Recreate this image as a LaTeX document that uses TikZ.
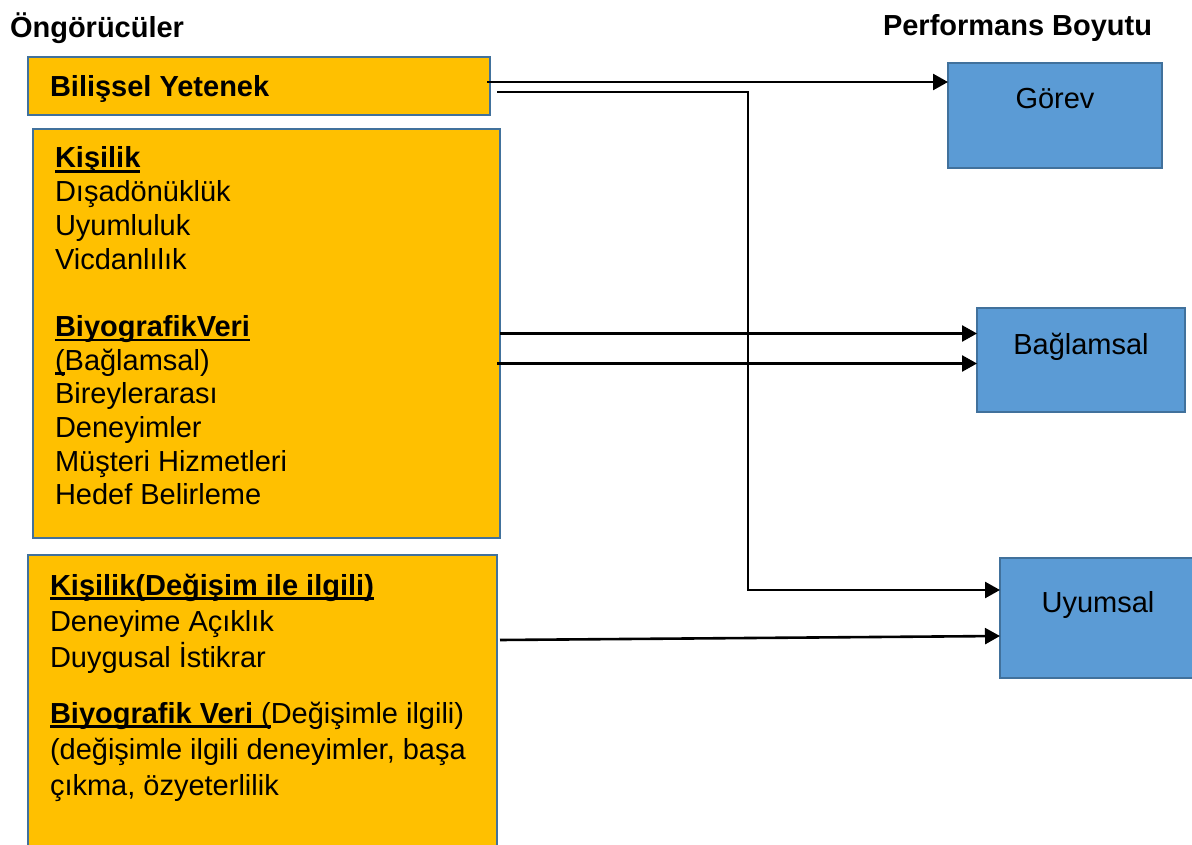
\documentclass[tikz,border=0pt]{standalone}
\usepackage{fontspec}
\setmainfont{Liberation Sans}
\usetikzlibrary{arrows.meta,calc}
\definecolor{boxorange}{HTML}{FFC000}
\definecolor{boxblue}{HTML}{5B9BD5}
\definecolor{edgeblue}{HTML}{41719C}
% underline at a fixed depth below the baseline, crossing the descenders
\newcommand\undl[1]{\leavevmode\setbox0\hbox{#1}\rlap{\rule[-5pt]{\wd0}{2.8pt}}\box0}
\begin{document}
\begin{tikzpicture}[x=1pt,y=-1pt,
  predictor/.style={draw=edgeblue, line width=2pt, fill=boxorange, inner sep=0pt, outer sep=0pt, anchor=north west},
  dimension/.style={draw=edgeblue, line width=2pt, fill=boxblue, inner sep=0pt, outer sep=0pt, anchor=north west},
  txt/.style={inner sep=0pt, outer sep=0pt, font=\fontsize{29}{33.7}\selectfont},
  arr/.style={line width=2.6pt, -{Triangle[length=15pt,width=16pt]}}]

\useasboundingbox (0,0) rectangle (1192,845);
\fill[white] (0,0) rectangle (1192,845);

% headings
\node[txt, anchor=base west] (h1) at (10,38) {\textbf{Öngörücüler}};
\node[txt, anchor=base west] (h2) at (883,36) {\textbf{Performans Boyutu}};

% predictor boxes
\node[predictor, minimum width=462pt, minimum height=58pt] (b1) at (28,57) {};
\node[predictor, minimum width=467pt, minimum height=409pt] (b2) at (33,129) {};
\node[predictor, minimum width=469pt, minimum height=320pt] (b3) at (28,555) {};

\node[txt, anchor=base west] (t1) at (50,97) {\textbf{Bilişsel Yetenek}};
\node[txt, anchor=base west] (t2) at (55,168) {\parbox[t]{430pt}{\fontsize{29}{33.7}\selectfont
  \undl{\textbf{Kişilik}}\\
  Dışadönüklük\\
  Uyumluluk\\
  Vicdanlılık\\[33.7pt]
  \undl{\textbf{BiyografikVeri}}\\
  \undl{(}Bağlamsal)\\
  Bireylerarası\\
  Deneyimler\\
  Müşteri Hizmetleri\\
  Hedef Belirleme}};
\node[txt, anchor=base west] (t3) at (50,595) {\parbox[t]{440pt}{\fontsize{29}{36}\selectfont
  \undl{\textbf{Kişilik(Değişim ile ilgili)}}\\
  Deneyime Açıklık\\
  Duygusal İstikrar\\[20pt]
  \undl{\textbf{Biyografik Veri }(}Değişimle ilgili)\\
  (değişimle ilgili deneyimler, başa\\
  çıkma, özyeterlilik}};

% performance dimension boxes
\node[dimension, minimum width=214pt, minimum height=105pt] (g) at (948,63) {};
\node[dimension, minimum width=208pt, minimum height=104pt] (bg) at (977,308) {};
\node[dimension, minimum width=196pt, minimum height=120pt] (u) at (1000,558) {};

\node[txt, anchor=base] (tg) at ($(g.north)+(0,46)$) {Görev};
\node[txt, anchor=base] (tbg) at ($(bg.north)+(0,46)$) {Bağlamsal};
\node[txt, anchor=base] (tu) at ($(u.north)+(0,54)$) {Uyumsal};

% connectors
\coordinate (s1) at ($(b1.east)+(-3,-4)$);
\draw[arr] (s1) -- (s1 -| g.west);

\coordinate (s2) at ($(b1.east)+(7,6)$);
\coordinate (bend) at ($(s2)+(251,0)$);
\coordinate (e2) at ($(u.north west)+(0,32)$);
\draw[arr] (s2) -- (bend) |- (e2);

\draw[arr] (b2.east) -- (b2.east -| bg.west);
\coordinate (s4) at ($(b2.east)+(-3,30)$);
\draw[arr] (s4) -- (s4 -| bg.west);

\coordinate (s5) at ($(b3.north east)+(3,85)$);
\coordinate (e5) at ($(u.north west)+(0,78)$);
\draw[arr] (s5) -- (e5);
\end{tikzpicture}
\end{document}
